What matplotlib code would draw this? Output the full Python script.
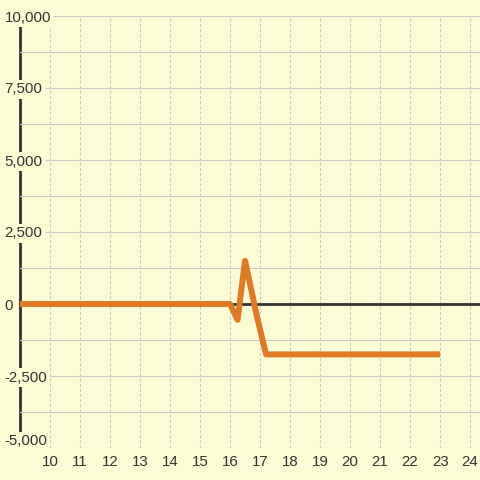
import matplotlib.pyplot as plt
from matplotlib.ticker import FuncFormatter

# chart data
hours = [9, 16, 16.25, 16.5, 16.9, 17.2, 23]
values = [0, 0, -550, 1500, -450, -1750, -1750]
x_ticks = list(range(10, 25))
y_major = [-5000, -2500, 0, 2500, 5000, 7500, 10000]
y_minor = [-3750, -1250, 1250, 3750, 6250, 8750]

BG = "#fcfcd4"
GRID = "#c8c8c8"
DARK = "#333333"
ORANGE = "#df7a25"

plt.rcParams["font.family"] = ["Liberation Sans", "DejaVu Sans"]
plt.rcParams["lines.scale_dashes"] = False


def main():
    fig = plt.figure(figsize=(4.8, 4.8), dpi=100, facecolor=BG)
    ax = fig.add_axes([20 / 480, 32 / 480, 460 / 480, 432 / 480])
    ax.set_facecolor(BG)
    ax.set_axisbelow(False)

    ax.plot(hours, values, color=ORANGE, lw=4.3, zorder=3,
            solid_joinstyle="round", solid_capstyle="butt")
    ax.axhline(0, color=DARK, lw=2, zorder=2.6)

    ax.set_xlim(9, 24.33)
    ax.set_ylim(-5000, 10000)
    ax.set_xticks(x_ticks)
    ax.set_yticks(y_major)
    ax.set_yticks(y_minor, minor=True)
    ax.yaxis.set_major_formatter(FuncFormatter(lambda v, p: f"{int(v):,}"))

    for side in ["top", "right", "bottom"]:
        ax.spines[side].set_visible(False)
    ax.spines["left"].set_color(DARK)
    ax.spines["left"].set_linewidth(2)
    ax.spines["left"].set_zorder(2.4)

    ax.grid(axis="y", which="both", color=GRID, lw=0.8)
    ax.grid(axis="x", which="major", color=GRID, lw=0.8,
            linestyle=(0, (2.2, 1.5)))

    ax.tick_params(axis="both", which="both", length=0, colors=DARK,
                   labelsize=10.8)
    ax.tick_params(axis="x", pad=5)
    ax.tick_params(axis="y", pad=11)

    for lab in ax.get_yticklabels():
        lab.set_horizontalalignment("left")
        lab.set_bbox(dict(facecolor=BG, edgecolor="none", pad=1.5))
    ax.get_yticklabels()[0].set_verticalalignment("bottom")

    fig.savefig("out.png", dpi=100, facecolor=BG)


if __name__ == "__main__":
    main()
